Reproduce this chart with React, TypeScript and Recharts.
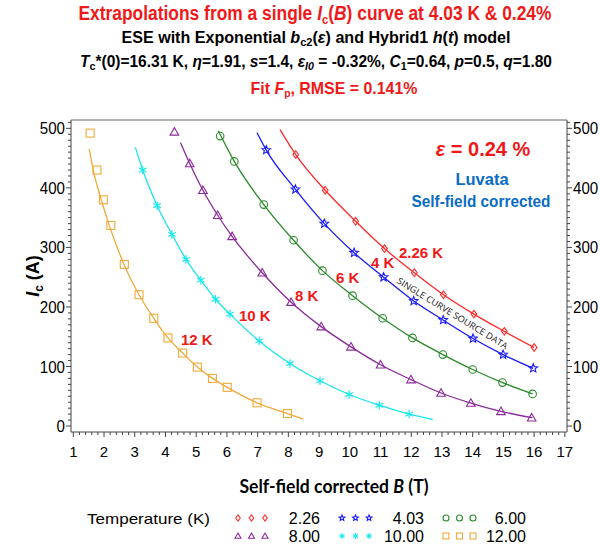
import { ComposedChart, Line, ReferenceLine, Scatter, XAxis, YAxis } from 'recharts'

// tick labels
const xTicks = [1, 2, 3, 4, 5, 6, 7, 8, 9, 10, 11, 12, 13, 14, 15, 16, 17]
const yTicks = [0, 100, 200, 300, 400, 500]
const temps = ['2.26', '4.03', '6.00', '8.00', '10.00', '12.00']

// measured points [B (T), Ic (A)]
const pts226 = [[8.24, 456], [9.2, 396], [10.19, 344], [11.13, 298], [12.1, 257.5], [13.05, 220.5], [14.04, 188], [15.03, 159], [16.0, 132]]
const pts403 = [[7.28, 463.5], [8.23, 397.5], [9.17, 340], [10.14, 291], [11.1, 250], [12.08, 210], [13.04, 178], [14.01, 147], [14.99, 120], [15.97, 97]]
const pts600 = [[5.78, 487], [6.24, 444.5], [7.2, 372], [8.17, 312], [9.11, 261], [10.09, 219], [11.07, 181], [12.04, 148], [13.03, 120], [14.0, 95], [14.97, 73], [15.95, 54]]
const pts800 = [[4.29, 494], [4.79, 441], [5.22, 396], [5.7, 354], [6.17, 318.5], [7.15, 257.5], [8.09, 208], [9.07, 167], [10.04, 133], [11.0, 103], [11.99, 78], [12.97, 55.5], [13.94, 38.6], [14.92, 24.6], [15.92, 14]]
const pts1000 = [[3.26, 430], [3.73, 370], [4.21, 322], [4.67, 280], [5.15, 245], [5.63, 213], [6.1, 188], [7.05, 143], [8.05, 105], [9.03, 76], [9.98, 53], [10.96, 35], [11.93, 20]]
const pts1200 = [[1.55, 492], [1.77, 430], [1.98, 380], [2.22, 337], [2.66, 271.5], [3.14, 220.5], [3.62, 181], [4.08, 148], [4.56, 122.6], [5.04, 99], [5.53, 80], [6.01, 65], [6.98, 39], [7.97, 21]]

// fitted curves
const fit226 = [[7.73, 498], [8.24, 456], [9.2, 396], [10.19, 344], [11.13, 298], [12.1, 257.5], [13.05, 220.5], [14.04, 188], [15.03, 159], [16.0, 132]]
const fit403 = [[6.98, 492.5], [7.28, 463.5], [8.23, 397.5], [9.17, 340], [10.14, 291], [11.1, 250], [12.08, 210], [13.04, 178], [14.01, 147], [14.99, 120], [15.97, 97]]
const fit600 = [[5.72, 496], [6.24, 444.5], [7.2, 372], [8.17, 312], [9.11, 261], [10.09, 219], [11.07, 181], [12.04, 148], [13.03, 120], [14.0, 95], [14.97, 73], [15.95, 54]]
const fit800 = [[4.49, 476], [4.79, 441], [5.22, 396], [5.7, 354], [6.17, 318.5], [7.15, 257.5], [8.09, 208], [9.07, 167], [10.04, 133], [11.0, 103], [11.99, 78], [12.97, 55.5], [13.94, 38.6], [14.92, 24.6], [15.95, 14]]
const fit1000 = [[3.02, 468], [3.26, 430], [3.73, 370], [4.21, 322], [4.67, 280], [5.15, 245], [5.63, 213], [6.1, 188], [7.05, 143], [8.05, 105], [9.03, 76], [9.98, 53], [10.96, 35], [11.93, 20], [12.7, 11]]
const fit1200 = [[1.52, 465], [1.65, 430], [1.91, 380], [2.17, 337], [2.65, 271.5], [3.14, 220.5], [3.62, 181], [4.08, 148], [4.56, 122.6], [5.04, 99], [5.53, 80], [6.01, 65], [6.98, 39], [7.97, 21], [8.49, 11.7]]

const toRows = (arr: number[][]) => arr.map(([b, i]) => ({ b, i }))

const xMinor = Array.from({ length: 81 }, (_, k) => Math.round((1 + k * 0.2) * 10) / 10)
const yMinor = Array.from({ length: 52 }, (_, k) => k * 10)

const AXIS = '#444'
const FONT = '"Liberation Sans", Arial, sans-serif'

type Kind = 'diamond' | 'star' | 'circle' | 'triangle' | 'asterisk' | 'square'

function Marker({ kind, cx, cy, color, s }: { kind: Kind; cx: number; cy: number; color: string; s: number }) {
  const common = { fill: 'none', stroke: color, strokeWidth: 1.1 }
  if (kind === 'diamond') {
    return <path d={`M${cx},${cy - s} L${cx + s * 0.75},${cy} L${cx},${cy + s} L${cx - s * 0.75},${cy} Z`} {...common} />
  }
  if (kind === 'circle') return <circle cx={cx} cy={cy} r={s} {...common} />
  if (kind === 'square') return <rect x={cx - s} y={cy - s} width={2 * s} height={2 * s} {...common} />
  if (kind === 'triangle') {
    return <path d={`M${cx},${cy - s} L${cx + s},${cy + s * 0.75} L${cx - s},${cy + s * 0.75} Z`} {...common} />
  }
  if (kind === 'star') {
    let d = ''
    for (let k = 0; k < 10; k++) {
      const r = k % 2 === 0 ? s : s * 0.45
      const a = -Math.PI / 2 + (k * Math.PI) / 5
      d += `${k === 0 ? 'M' : 'L'}${cx + r * Math.cos(a)},${cy + r * Math.sin(a)} `
    }
    return <path d={d + 'Z'} {...common} />
  }
  // asterisk
  const lines = [90, 30, 150].map((deg) => {
    const a = (deg * Math.PI) / 180
    const dx = s * Math.cos(a)
    const dy = s * Math.sin(a)
    return <line key={deg} x1={cx - dx} y1={cy - dy} x2={cx + dx} y2={cy + dy} stroke={color} strokeWidth={1.2} />
  })
  return <g>{lines}</g>
}

const series = [
  { name: temps[0], pts: pts226, fit: fit226, color: '#ff2a2a', kind: 'diamond' as Kind, s: 3.8 },
  { name: temps[1], pts: pts403, fit: fit403, color: '#1a1aff', kind: 'star' as Kind, s: 4.5 },
  { name: temps[2], pts: pts600, fit: fit600, color: '#2a8a2a', kind: 'circle' as Kind, s: 3.8 },
  { name: temps[3], pts: pts800, fit: fit800, color: '#8a2a9a', kind: 'triangle' as Kind, s: 4.3 },
  { name: temps[4], pts: pts1000, fit: fit1000, color: '#18e8ee', kind: 'asterisk' as Kind, s: 4.3 },
  { name: temps[5], pts: pts1200, fit: fit1200, color: '#f2a93a', kind: 'square' as Kind, s: 4 },
]

const isMajor = (v: number, step: number) => Math.abs(v / step - Math.round(v / step)) < 1e-6

function XTick(props: any) {
  const { x, y, payload } = props
  const v = payload.value
  if (!isMajor(v, 1)) return <line x1={x} y1={y} x2={x} y2={y + 3} stroke={AXIS} />
  return (
    <g>
      <line x1={x} y1={y} x2={x} y2={y + 5} stroke={AXIS} />
      <text x={x} y={y + 25} textAnchor="middle" fontFamily={FONT} fontSize={15} fill="#000">
        {xTicks.includes(v) ? v : ''}
      </text>
    </g>
  )
}

function YTick(props: any) {
  const { x, y, payload, side } = props
  const v = payload.value
  const dir = side === 'left' ? -1 : 1
  if (!isMajor(v, 100)) return <line x1={x} y1={y} x2={x + dir * 3} y2={y} stroke={AXIS} />
  const label = yTicks.includes(v) ? String(v) : ''
  return (
    <g>
      <line x1={x} y1={y} x2={x + dir * 5} y2={y} stroke={AXIS} />
      <text
        x={x + dir * 6}
        y={y + 6}
        textAnchor={side === 'left' ? 'end' : 'start'}
        fontFamily={FONT}
        fontSize={16}
        fill="#000"
        textLength={label.length * 8.4}
        lengthAdjust="spacingAndGlyphs"
      >
        {label}
      </text>
    </g>
  )
}

export default function App() {
  const red = '#f01818'
  const blue = '#0a6cc4'
  return (
    <div style={{ position: 'absolute', left: 0, top: 0, width: 600, height: 547, background: '#fff' }}>
      <ComposedChart width={600} height={547} margin={{ top: 120, right: 0, bottom: 95, left: 30 }}>
        <XAxis
          dataKey="b"
          type="number"
          domain={[0.925, 17.07]}
          allowDataOverflow
          ticks={xMinor}
          interval={0}
          tickSize={0}
          tickMargin={0}
          tickLine={false}
          tick={<XTick />}
          height={20}
          axisLine={{ stroke: AXIS }}
        />
        <YAxis
          yAxisId="left"
          type="number"
          domain={[-10, 514]}
          allowDataOverflow
          ticks={yMinor}
          interval={0}
          tickSize={0}
          tickMargin={0}
          tickLine={false}
          tick={<YTick side="left" />}
          width={41}
          axisLine={{ stroke: AXIS }}
        />
        <YAxis
          yAxisId="right"
          orientation="right"
          type="number"
          domain={[-10, 514]}
          allowDataOverflow
          ticks={yMinor}
          interval={0}
          tickSize={0}
          tickMargin={0}
          tickLine={false}
          tick={<YTick side="right" />}
          width={33}
          axisLine={{ stroke: AXIS }}
        />
        <ReferenceLine yAxisId="left" y={514} stroke="#999" strokeWidth={1.5} />
        {series.map((s) => (
          <Line
            key={'fit' + s.name}
            yAxisId="left"
            data={toRows(s.fit)}
            dataKey="i"
            type="monotone"
            stroke={s.color}
            strokeWidth={1.3}
            dot={false}
            activeDot={false}
            isAnimationActive={false}
          />
        ))}
        {series.map((s) => (
          <Scatter
            key={'pts' + s.name}
            yAxisId="left"
            data={toRows(s.pts)}
            dataKey="i"
            isAnimationActive={false}
            shape={(p: any) => <Marker kind={s.kind} cx={p.cx} cy={p.cy} color={s.color} s={s.s} />}
          />
        ))}
      </ComposedChart>

      <svg width={600} height={547} style={{ position: 'absolute', left: 0, top: 0, pointerEvents: 'none' }}>
        <g fontFamily={FONT} fontWeight="bold">
          <text x={315} y={20} textAnchor="middle" fontSize={20} fill={red} textLength={473} lengthAdjust="spacingAndGlyphs">
            Extrapolations from a single <tspan fontStyle="italic">I</tspan>
            <tspan fontSize={13} dy={4}>c</tspan>
            <tspan dy={-4}>(</tspan>
            <tspan fontStyle="italic">B</tspan>) curve at 4.03 K &amp; 0.24%
          </text>
          <text x={316} y={43} textAnchor="middle" fontSize={16} fill="#000" textLength={389} lengthAdjust="spacingAndGlyphs">
            ESE with Exponential <tspan fontStyle="italic">b</tspan>
            <tspan fontSize={11} dy={3}>c2</tspan>
            <tspan dy={-3}>(</tspan>
            <tspan fontStyle="italic">ε</tspan>) and Hybrid1 <tspan fontStyle="italic">h</tspan>(<tspan fontStyle="italic">t</tspan>) model
          </text>
          <text x={316} y={67} textAnchor="middle" fontSize={16} fill="#000" textLength={472} lengthAdjust="spacingAndGlyphs">
            <tspan fontStyle="italic">T</tspan>
            <tspan fontSize={11} dy={3}>c</tspan>
            <tspan dy={-3}>*(0)=16.31 K, </tspan>
            <tspan fontStyle="italic">η</tspan>=1.91, <tspan fontStyle="italic">s</tspan>=1.4, <tspan fontStyle="italic">ε</tspan>
            <tspan fontSize={11} dy={3} fontStyle="italic">I0</tspan>
            <tspan dy={-3}> = -0.32%, </tspan>
            <tspan fontStyle="italic">C</tspan>
            <tspan fontSize={11} dy={3}>1</tspan>
            <tspan dy={-3}>=0.64, </tspan>
            <tspan fontStyle="italic">p</tspan>=0.5, <tspan fontStyle="italic">q</tspan>=1.80
          </text>
          <text x={334} y={94} textAnchor="middle" fontSize={17} fill={red} textLength={167} lengthAdjust="spacingAndGlyphs">
            Fit <tspan fontStyle="italic">F</tspan>
            <tspan fontSize={11} dy={3}>p</tspan>
            <tspan dy={-3}>,  RMSE = 0.141%</tspan>
          </text>

          <text x={483} y={156} textAnchor="middle" fontSize={20} fill={red}>
            <tspan fontStyle="italic">ε</tspan> = 0.24 %
          </text>
          <text x={482} y={185} textAnchor="middle" fontSize={16.5} fill={blue}>Luvata</text>
          <text x={481} y={207} textAnchor="middle" fontSize={16.5} fill={blue} textLength={139} lengthAdjust="spacingAndGlyphs">
            Self-field corrected
          </text>

          <text x={399} y={258} fontSize={15} fill={red}>2.26 K</text>
          <text x={371} y={268} fontSize={15} fill={red}>4 K</text>
          <text x={336} y={283} fontSize={15} fill={red}>6 K</text>
          <text x={295} y={301} fontSize={15} fill={red}>8 K</text>
          <text x={239} y={321} fontSize={15} fill={red}>10 K</text>
          <text x={181} y={345} fontSize={15} fill={red}>12 K</text>

          <text
            x={0}
            y={0}
            transform="translate(452,314) rotate(31.5)"
            textAnchor="middle"
            dominantBaseline="middle"
            fontFamily='"Open Sans", sans-serif'
            fontWeight="normal"
            fontSize={9}
            fill="#222"
            textLength={128}
            lengthAdjust="spacingAndGlyphs"
          >
            SINGLE CURVE SOURCE DATA
          </text>

          <text x={0} y={0} transform="translate(39,276) rotate(-90)" textAnchor="middle" fontSize={18} fill="#000">
            <tspan fontStyle="italic">I</tspan>
            <tspan fontSize={12} dy={4}>c</tspan>
            <tspan dy={-4}> (A)</tspan>
          </text>

          <text x={334} y={493} textAnchor="middle" fontFamily='Lato, sans-serif' fontSize={18} fill="#000" textLength={189} lengthAdjust="spacingAndGlyphs">
            Self-field corrected <tspan fontStyle="italic">B</tspan> (T)
          </text>

          <text x={87} y={524} fontSize={15} fontWeight="normal" fill="#000" textLength={123} lengthAdjust="spacingAndGlyphs">
            Temperature  (K)
          </text>
        </g>
        {series.map((s, idx) => {
          const col = idx % 3
          const row = Math.floor(idx / 3)
          const mx = [238, 342, 446][col]
          const tx = [320, 424, 526][col]
          const y = 518 + row * 18
          return (
            <g key={'leg' + s.name}>
              {[0, 1, 2].map((k) => (
                <Marker key={k} kind={s.kind} cx={mx + k * 13.5} cy={y} color={s.color} s={3} />
              ))}
              <text x={tx} y={y + 6} textAnchor="end" fontFamily={FONT} fontSize={16} fill="#000">
                {s.name}
              </text>
            </g>
          )
        })}
      </svg>
    </div>
  )
}
